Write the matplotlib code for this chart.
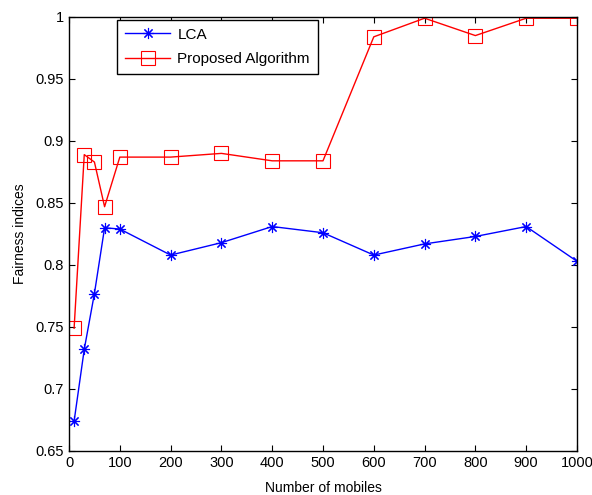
import numpy as np
import matplotlib
matplotlib.use('Agg')
import matplotlib.pyplot as plt

plt.rcParams['font.family'] = ['Liberation Sans', 'DejaVu Sans']

# number of mobiles
mobiles = [10, 30, 50, 70, 100, 200, 300, 400, 500, 600, 700, 800, 900, 1000]
# fairness values
lca = [0.674, 0.732, 0.777, 0.830, 0.829, 0.808, 0.818, 0.831, 0.826, 0.808, 0.817, 0.823, 0.831, 0.803]
proposed = [0.749, 0.889, 0.883, 0.847, 0.887, 0.887, 0.890, 0.884, 0.884, 0.984, 0.999, 0.985, 0.999, 0.999]

xticks = [0, 100, 200, 300, 400, 500, 600, 700, 800, 900, 1000]
yticks = [0.65, 0.7, 0.75, 0.8, 0.85, 0.9, 0.95, 1]
ytick_labels = ['0.65', '0.7', '0.75', '0.8', '0.85', '0.9', '0.95', '1']

fig = plt.figure(figsize=(5.92, 4.95), dpi=100)
ax = fig.add_axes([0.1166, 0.0889, 0.858, 0.8768])

ax.plot(mobiles, lca, color='blue', lw=1, marker=(8, 2, 0), markersize=8,
        markeredgewidth=0.8, label='LCA')
ax.plot(mobiles, proposed, color='red', lw=1, marker='s', markersize=9.5,
        markerfacecolor='none', markeredgewidth=0.8, label='Proposed Algorithm')

ax.set_xlim(0, 1000)
ax.set_ylim(0.65, 1)
ax.set_xticks(xticks)
ax.set_yticks(yticks)
ax.set_yticklabels(ytick_labels)
ax.tick_params(direction='in', top=True, right=True, labelsize=10.5, length=4, width=0.8)
for s in ax.spines.values():
    s.set_linewidth(1)

ax.set_xlabel('Number of mobiles', fontsize=10, labelpad=8)
ax.set_ylabel('Fairness indices', fontsize=10, labelpad=6)

leg = ax.legend(loc='upper left', bbox_to_anchor=(0.0945, 0.993), borderaxespad=0,
                fancybox=False, edgecolor='black', framealpha=1, fontsize=11,
                handlelength=3.0, handletextpad=0.45, borderpad=0.5, labelspacing=0.7)
leg.get_frame().set_linewidth(1)

plt.savefig('out.png', dpi=100)
